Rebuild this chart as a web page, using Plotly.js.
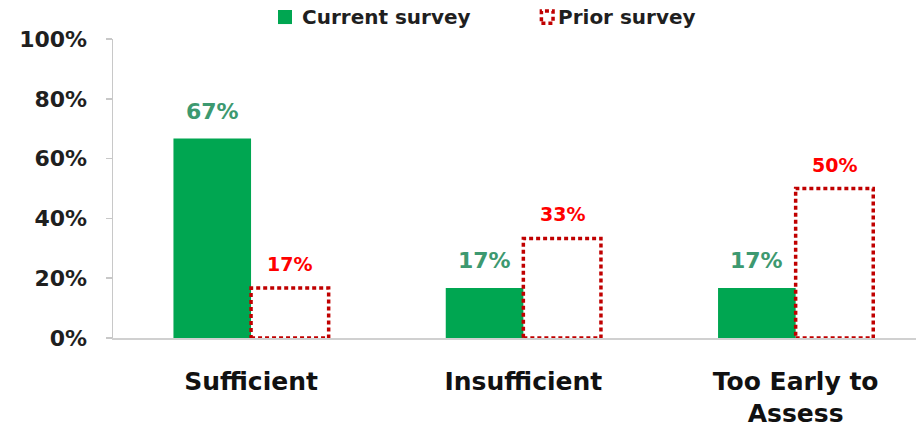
<!DOCTYPE html>
<html>
<head>
<meta charset="utf-8">
<script src="https://cdn.plot.ly/plotly-3.0.1.min.js"></script>
<style>html,body{margin:0;padding:0;background:#fff;}#chart{width:922px;height:431px;}</style>
</head>
<body>
<div id="chart"></div>
<script>
const categories = ["Sufficient", "Insufficient", "Too Early to<br>Assess"];
const currentSurvey = [66.7, 16.7, 16.7];
const priorSurvey = [16.7, 33.3, 50.0];
const seriesNames = ["Current survey", "Prior survey"];
const yTickVals = [0, 20, 40, 60, 80, 100];
const yTickText = ["0%", "20%", "40%", "60%", "80%", "100%"];

const GREEN = "#00a651";
const RED = "#c00000";
const FONT = "DejaVu Sans, Verdana, sans-serif";
const bargap = 0.43;
const barW = (1 - bargap) / 2;
const idx = categories.map((c, i) => i);

const traces = [
  {type: "bar", x: idx, y: currentSurvey, name: seriesNames[0],
   marker: {color: GREEN, line: {width: 0}}, showlegend: false, hoverinfo: "y"},
  {type: "bar", x: idx, y: priorSurvey, name: seriesNames[1],
   marker: {color: "rgba(255,255,255,0)", line: {width: 0}}, showlegend: false, hoverinfo: "y"}
];

const shapes = priorSurvey.map((v, i) => ({
  type: "rect", xref: "x", yref: "y", x0: i, x1: i + barW, y0: 0, y1: v,
  line: {color: RED, width: 3.5, dash: "4px,3px"}, fillcolor: "rgba(0,0,0,0)", layer: "above"
}));
// legend icons
shapes.push({type: "rect", xref: "paper", yref: "paper", x0: 0.2055, x1: 0.2229, y0: 1.050, y1: 1.097,
  line: {width: 0}, fillcolor: GREEN});
shapes.push({type: "rect", xref: "paper", yref: "paper", x0: 0.5335, x1: 0.5480, y0: 1.053, y1: 1.094,
  line: {color: RED, width: 3.5, dash: "4px,3px"}, fillcolor: "rgba(0,0,0,0)"});

const annotations = [];
currentSurvey.forEach((v, i) => annotations.push({
  x: i - barW / 2, y: v, xref: "x", yref: "y", text: Math.round(v) + "%", showarrow: false,
  yanchor: "bottom", yshift: 13, font: {family: FONT, size: 22, color: "#3d9970", weight: "bold"}
}));
priorSurvey.forEach((v, i) => annotations.push({
  x: i + barW / 2, y: v, xref: "x", yref: "y", text: Math.round(v) + "%", showarrow: false,
  yanchor: "bottom", yshift: 11, font: {family: FONT, size: 19, color: "#ff0000", weight: "bold"}
}));
annotations.push({x: 0.2329, y: 1.0736, xref: "paper", yref: "paper", xanchor: "left", yanchor: "middle",
  text: seriesNames[0], showarrow: false, font: {family: FONT, size: 20, color: "#1f1f1f", weight: "bold"}});
annotations.push({x: 0.5517, y: 1.0736, xref: "paper", yref: "paper", xanchor: "left", yanchor: "middle",
  text: seriesNames[1], showarrow: false, font: {family: FONT, size: 20, color: "#1f1f1f", weight: "bold"}});

const layout = {
  width: 922, height: 431,
  margin: {l: 113, r: 6, t: 39, b: 93},
  paper_bgcolor: "#fff", plot_bgcolor: "#fff",
  barmode: "group", bargap: bargap, bargroupgap: 0,
  showlegend: false,
  xaxis: {
    type: "linear", range: [-0.507, 2.442], tickvals: idx, ticktext: categories,
    showgrid: false, zeroline: false, showline: true, linecolor: "#d0d0d0", linewidth: 1.5,
    ticks: "", ticklabelstandoff: 20,
    tickfont: {family: FONT, size: 25, color: "#111", weight: "bold"}
  },
  yaxis: {
    range: [0, 100], tickvals: yTickVals, ticktext: yTickText,
    showgrid: false, zeroline: false, showline: true, linecolor: "#c8c8c8", linewidth: 1.5,
    ticks: "outside", ticklen: 6, tickcolor: "#c8c8c8", tickwidth: 1.5, ticklabelstandoff: 14,
    tickfont: {family: FONT, size: 22, color: "#1f1f1f", weight: "bold"}
  },
  shapes: shapes,
  annotations: annotations
};

Plotly.newPlot("chart", traces, layout, {displayModeBar: false, staticPlot: true});
</script>
</body>
</html>
